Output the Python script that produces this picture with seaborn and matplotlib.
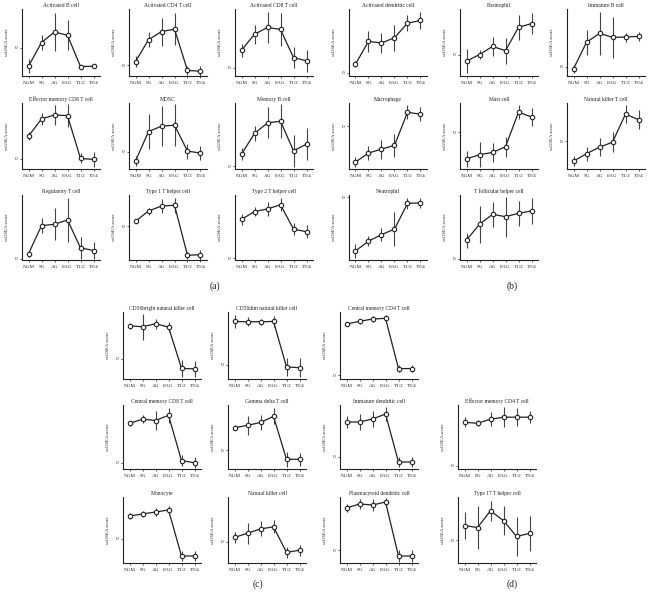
import numpy as np
import matplotlib
matplotlib.use("Agg")
import matplotlib.pyplot as plt
import seaborn as sns

stages = ["NGM", "SG", "AG", "EAG", "T1/2", "T3/4"]

# top block (a)/(b): 3 rows x 6 columns
top_titles = ["Activated B cell", "Activated CD4 T cell", "Activated CD8 T cell",
              "Activated dendritic cell", "Eosinophil", "Immature B cell",
              "Effector memory CD8 T cell", "MDSC", "Memory B cell",
              "Macrophage", "Mast cell", "Natural killer T cell",
              "Regulatory T cell", "Type 1 T helper cell", "Type 2 T helper cell",
              "Neutrophil", "T follicular helper cell"]
top_means = [[-1.9, 0.53, 1.62, 1.27, -1.93, -1.9],
             [0.33, 2.47, 3.27, 3.5, -0.53, -0.6],
             [1.83, 3.47, 4.17, 3.97, 1.07, 0.73],
             [0.87, 3.17, 3.0, 3.53, 5.0, 5.27],
             [-0.67, 0.0, 0.83, 0.4, 2.8, 3.17],
             [-0.2, 2.47, 3.37, 2.97, 3.0, 3.07],
             [2.27, 4.0, 4.4, 4.33, 0.03, -0.07],
             [-0.93, 2.03, 2.57, 2.67, 0.07, -0.13],
             [1.2, 3.27, 4.33, 4.5, 1.53, 2.2],
             [-3.6, -2.7, -2.3, -1.93, 1.4, 1.2],
             [-2.67, -2.27, -2.03, -1.47, 2.0, 1.53],
             [-2.03, -1.27, -0.6, -0.1, 2.77, 2.2],
             [0.47, 3.3, 3.43, 3.87, 1.07, 0.8],
             [0.47, 1.5, 2.0, 2.07, -2.93, -2.87],
             [4.0, 4.8, 5.07, 5.5, 3.0, 2.73],
             [-5.5, -4.5, -3.83, -3.27, -0.63, -0.57],
             [1.9, 3.47, 4.47, 4.23, 4.57, 4.8]]
top_errs = [[0.7, 0.8, 1.95, 1.55, 0.15, 0.2],
            [0.55, 0.75, 1.37, 1.58, 0.42, 0.53],
            [0.67, 1.0, 1.58, 1.7, 1.05, 1.13],
            [0.33, 1.05, 1.0, 1.32, 0.83, 0.87],
            [1.25, 0.45, 1.0, 1.33, 1.27, 1.08],
            [0.38, 1.28, 2.17, 2.05, 0.45, 0.47],
            [0.42, 0.63, 1.0, 1.13, 0.5, 0.75],
            [0.5, 1.72, 2.0, 2.08, 0.75, 0.7],
            [0.58, 0.78, 1.55, 1.72, 1.58, 1.62],
            [0.47, 0.7, 0.95, 1.17, 0.72, 0.7],
            [0.78, 1.25, 0.95, 1.0, 0.72, 0.93],
            [0.5, 0.72, 0.9, 1.03, 0.93, 1.0],
            [0.33, 0.75, 1.62, 2.17, 1.1, 0.88],
            [0.15, 0.35, 0.67, 0.72, 0.38, 0.5],
            [0.57, 0.47, 0.75, 0.67, 0.63, 0.67],
            [0.73, 0.53, 0.7, 1.75, 0.53, 0.5],
            [0.75, 1.83, 1.25, 2.0, 1.27, 1.32]]
top_ylims = [(-2.9, 3.97), (-1.07, 5.47), (-0.83, 6.07), (-0.33, 6.43),
             (-2.2, 4.67), (-0.93, 5.83), (-1.03, 5.6), (-1.73, 4.9),
             (-0.3, 6.33), (-4.3, 2.33), (-3.7, 2.93), (-2.83, 3.9),
             (-0.15, 6.37), (-3.4, 3.1), (-0.17, 6.5), (-6.43, 0.23),
             (-0.1, 6.4)]

# bottom block (c)/(d): None marks an empty slot
bot_titles = ["CD56bright natural killer cell", "CD56dim natural killer cell",
              "Central memory CD4 T cell", None,
              "Central memory CD8 T cell", "Gamma delta T cell",
              "Immature dendritic cell", "Effector memory CD4 T cell",
              "Monocyte", "Natural killer cell", "Plasmacytoid dendritic cell",
              "Type 17 T helper cell"]
bot_means = [[3.3, 3.2, 3.5, 3.17, -0.93, -1.0],
             [4.33, 4.3, 4.3, 4.33, -0.2, -0.27],
             [5.1, 5.37, 5.6, 5.67, 0.67, 0.67],
             None,
             [4.03, 4.47, 4.33, 4.87, 0.2, -0.03],
             [2.33, 2.57, 2.87, 3.5, -0.93, -0.93],
             [3.47, 3.47, 3.77, 4.27, -0.53, -0.53],
             [4.3, 4.2, 4.6, 4.8, 4.8, 4.8],
             [2.3, 2.5, 2.7, 2.9, -1.7, -1.7],
             [0.4, 0.8, 1.2, 1.4, -1.0, -0.8],
             [4.2, 4.6, 4.5, 4.8, -0.6, -0.6],
             [1.5, 1.3, 3.0, 2.0, 0.4, 0.7]]
bot_errs = [[0.3, 1.27, 0.5, 0.5, 0.87, 0.78],
            [0.67, 0.47, 0.3, 0.57, 0.92, 0.95],
            [0.1, 0.25, 0.3, 0.35, 0.38, 0.33],
            None,
            [0.3, 0.43, 1.0, 0.8, 0.55, 0.58],
            [0.25, 1.0, 0.77, 0.83, 0.78, 0.7],
            [0.6, 0.8, 0.8, 0.7, 0.5, 0.5],
            [0.5, 0.3, 0.7, 1.0, 0.9, 0.6],
            [0.3, 0.3, 0.4, 0.4, 0.5, 0.5],
            [0.5, 1.0, 0.7, 0.6, 0.5, 0.5],
            [0.4, 0.5, 0.6, 0.4, 0.6, 0.6],
            [1.4, 2.2, 1.0, 1.5, 2.0, 1.8]]
bot_ylims = [(-2.0, 4.67), (-1.4, 5.27), (-0.37, 6.3), None,
             (-0.67, 5.93), (-1.93, 4.67), (-1.23, 5.17), (-0.3, 6.0),
             (-2.4, 4.2), (-2.0, 4.2), (-1.3, 5.3), (-2.3, 4.4)]

W, H = 648, 597
fig = plt.figure(figsize=(W / 100, H / 100), dpi=100)
sns.set_style("ticks")
plt.rcParams["font.family"] = ["Liberation Serif", "DejaVu Serif"]

ink = "#222222"


def panel(left, top, bottom, title, mean, err, ylim, width=78):
    ax = fig.add_axes([left / W, 1 - bottom / H, width / W, (bottom - top) / H])
    x = np.arange(len(stages))
    ax.errorbar(x, mean, yerr=err, fmt="none", ecolor="#444444",
                elinewidth=0.8, capsize=0, zorder=1)
    sns.pointplot(x=stages, y=mean, color=ink, errorbar=None, ax=ax,
                  marker="o", markersize=3.2, markerfacecolor="white",
                  markeredgewidth=0.8, linewidth=0.9, zorder=3)
    ax.set_xlim(-0.5, 5.5)
    ax.set_ylim(*ylim)
    ax.set_yticks([0])
    ax.set_yticklabels(["0"])
    ax.set_xlabel("")
    ax.set_ylabel("ssGSEA score", fontsize=3.5, labelpad=4, color=ink)
    ax.set_title(title, fontsize=4.0, pad=1.5, color=ink)
    ax.tick_params(axis="both", labelsize=3.7, length=1.5, width=0.5,
                   pad=2, colors=ink)
    sns.despine(ax=ax)
    for s in ["left", "bottom"]:
        ax.spines[s].set_linewidth(0.8)
        ax.spines[s].set_color(ink)
    return ax


top_rows = [(9, 76), (103, 169), (195, 260)]
top_cols = [22, 129, 235, 349, 460, 567]
for i, t in enumerate(top_titles):
    r, c = divmod(i, 6)
    panel(top_cols[c], top_rows[r][0], top_rows[r][1], t,
          top_means[i], top_errs[i], top_ylims[i])

bot_rows = [(312, 379), (405, 469), (497, 563)]
bot_cols = [123, 228, 340, 458]
for i, t in enumerate(bot_titles):
    if t is None:
        continue
    r, c = divmod(i, 4)
    panel(bot_cols[c], bot_rows[r][0], bot_rows[r][1], t,
          bot_means[i], bot_errs[i], bot_ylims[i])

for lab, x, y in [("(a)", 215, 286), ("(b)", 512, 286),
                  ("(c)", 258, 584), ("(d)", 512, 584)]:
    fig.text(x / W, 1 - y / H, lab, fontsize=7, ha="center", va="center",
             color=ink)

fig.savefig("out.png", dpi=100)
